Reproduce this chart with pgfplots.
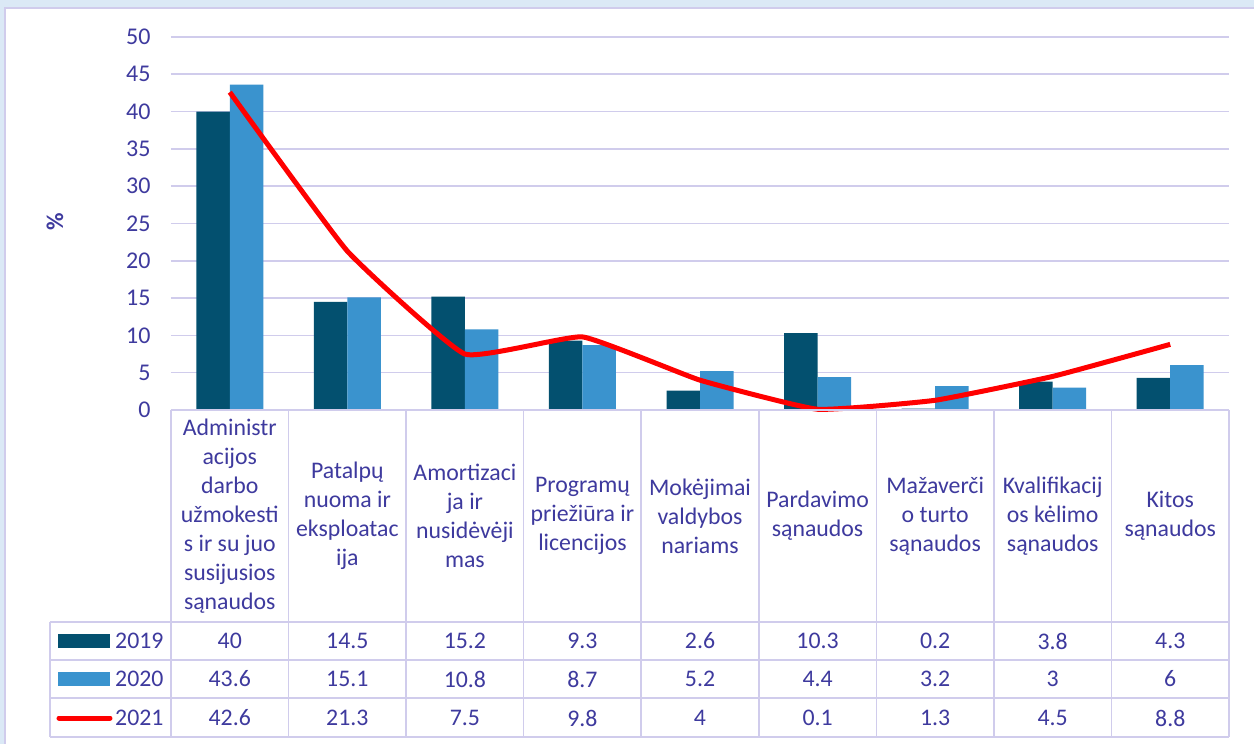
\documentclass[border=0pt]{standalone}
\usepackage{pgfplots}
\usepackage{pgfplotstable}
\pgfplotsset{compat=1.18}
\usepackage{fontspec}
\setmainfont{Carlito}
\definecolor{txt}{RGB}{62,58,158}
\definecolor{gridc}{RGB}{208,204,236}
\definecolor{darkb}{RGB}{3,80,111}
\definecolor{lightb}{RGB}{58,147,206}
\definecolor{bgc}{RGB}{219,233,246}
\pgfplotstableread{
x a b c
0 40 43.6 42.6
1 14.5 15.1 21.3
2 15.2 10.8 7.5
3 9.3 8.7 9.8
4 2.6 5.2 4
5 10.3 4.4 0.1
6 0.2 3.2 1.3
7 3.8 3 4.5
8 4.3 6 8.8
}\data
\begin{document}
\begin{tikzpicture}[font=\fontsize{23.8bp}{29bp}\selectfont, text=txt]
\fill[bgc] (-171bp,-334bp) rectangle (1083bp,410bp);
\path[use as bounding box] (-171bp,-334bp) rectangle (1083bp,410bp);
\fill[white] (-166bp,-340bp) rectangle (1090bp,402bp);
\draw[gridc, line width=1.5bp] (-166bp,-340bp) -- (-166bp,402bp) -- (1090bp,402bp);
\begin{axis}[
  at={(0,0)}, anchor=south west,
  width=1058bp, height=373bp, scale only axis,
  xmin=-0.5, xmax=8.5, ymin=0, ymax=50,
  ytick={0,5,...,50}, xtick=\empty,
  ymajorgrids, grid style={gridc, line width=1.6bp},
  axis line style={draw=none},
  major tick style={draw=none},
  tick label style={font=\fontsize{24bp}{29bp}\selectfont, text=txt},
  yticklabel style={xshift=-17bp},
  /pgf/number format/assume math mode=true,
  ybar, bar width=0.285,
  clip=false,
]
\addplot[fill=darkb, draw=none, bar shift=-0.1425] table[x=x,y=a] {\data};
\addplot[fill=lightb, draw=none, bar shift=0.1425] table[x=x,y=b] {\data};
\addplot[red, line width=5bp, sharp plot, smooth, tension=0.22, mark=none, line join=round] table[x=x,y=c] {\data};
\end{axis}
% table grid
\foreach \k in {0,...,9} \draw[gridc, line width=1.6bp] ({\k*117.56bp},0) -- ({\k*117.56bp},-327bp);
\foreach \yy in {-212,-250,-288,-327} \draw[gridc, line width=1.6bp] (-121bp,\yy bp) -- (1058bp,\yy bp);
\draw[gridc, line width=1.6bp] (-121bp,-212bp) -- (-121bp,-327bp);
\draw[gridc, line width=1.6bp] (0,0) -- (1058bp,0);
% category labels
\foreach \lab [count=\i from 0] in {
 {Administr\\acijos\\darbo\\užmokesti\\s ir su juo\\susijusios\\sąnaudos},
 {Patalpų\\nuoma ir\\eksploatac\\ija},
 {Amortizaci\\ja ir\\nusidėvėji\\mas},
 {Programų\\priežiūra ir\\licencijos},
 {Mokėjimai\\valdybos\\nariams},
 {Pardavimo\\sąnaudos},
 {Mažaverči\\o turto\\sąnaudos},
 {Kvalifikacij\\os kėlimo\\sąnaudos},
 {Kitos\\sąnaudos}}
 \node[align=center, inner sep=0pt] at ({(\i+0.5)*117.56bp},-106bp) {\lab};
% values
\foreach \v [count=\i from 0] in {40,14.5,15.2,9.3,2.6,10.3,0.2,3.8,4.3}
 \node at ({(\i+0.5)*117.56bp},-231bp) {\v};
\foreach \v [count=\i from 0] in {43.6,15.1,10.8,8.7,5.2,4.4,3.2,3,6}
 \node at ({(\i+0.5)*117.56bp},-269bp) {\v};
\foreach \v [count=\i from 0] in {42.6,21.3,7.5,9.8,4,0.1,1.3,4.5,8.8}
 \node at ({(\i+0.5)*117.56bp},-308bp) {\v};
% legend
\fill[darkb] (-113bp,-238bp) rectangle (-61bp,-224bp);
\node[anchor=west, inner sep=0pt] at (-56bp,-231bp) {2019};
\fill[lightb] (-113bp,-276bp) rectangle (-61bp,-262bp);
\node[anchor=west, inner sep=0pt] at (-56bp,-269bp) {2020};
\draw[red, line width=5bp, line cap=round] (-112bp,-308bp) -- (-61bp,-308bp);
\node[anchor=west, inner sep=0pt] at (-56bp,-308bp) {2021};
% y label
\node[rotate=90, font=\bfseries\fontsize{24bp}{29bp}\selectfont] at (-116bp,188bp) {\%};
\end{tikzpicture}
\end{document}
